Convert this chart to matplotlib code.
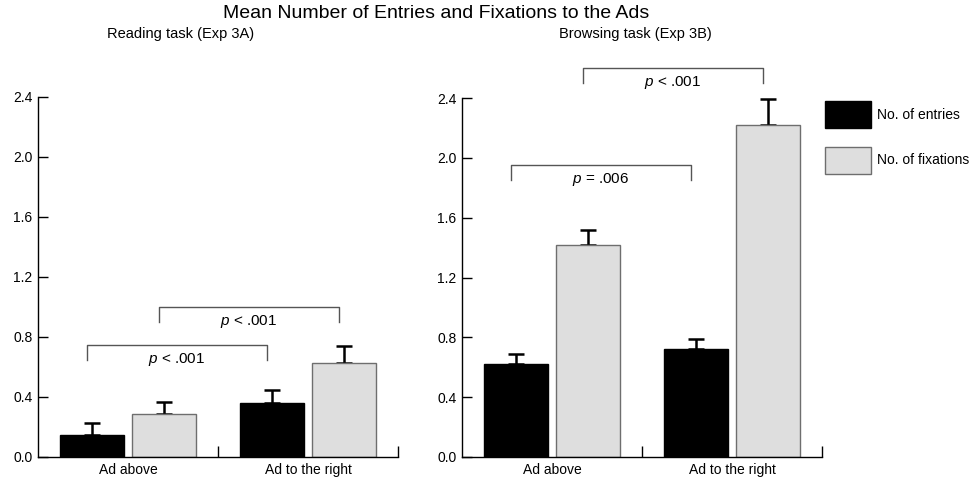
import numpy as np
import matplotlib
matplotlib.use("Agg")
import matplotlib.pyplot as plt
from matplotlib.patches import Patch

plt.rcParams['font.family'] = ['Liberation Sans', 'DejaVu Sans']
plt.rcParams['mathtext.fontset'] = 'custom'
plt.rcParams['mathtext.it'] = 'Liberation Sans:italic'
plt.rcParams['mathtext.rm'] = 'Liberation Sans'

categories = ["Ad above", "Ad to the right"]
series_names = ["No. of entries", "No. of fixations"]

reading_entries = [0.15, 0.36]
reading_entries_err = [0.08, 0.09]
reading_fixations = [0.29, 0.63]
reading_fixations_err = [0.08, 0.11]

browsing_entries = [0.62, 0.72]
browsing_entries_err = [0.07, 0.07]
browsing_fixations = [1.42, 2.22]
browsing_fixations_err = [0.10, 0.17]

yticks = [0.0, 0.4, 0.8, 1.2, 1.6, 2.0, 2.4]

# brackets: (series a, cat a, series b, cat b, label)
reading_brackets = [(0, 0, 0, 1, "$p$ < .001"), (1, 0, 1, 1, "$p$ < .001")]
browsing_brackets = [(0, 0, 0, 1, "$p$ = .006"), (1, 0, 1, 1, "$p$ < .001")]

black = "#000000"
grey = "#dedede"
grey_edge = "#6e6e6e"
bracket_col = "#555555"

W, H = 975, 482
fig = plt.figure(figsize=(W / 100, H / 100), dpi=100)

def px_axes(x0, x1, ytop, ybot):
    return fig.add_axes([x0 / W, 1 - ybot / H, (x1 - x0) / W, (ybot - ytop) / H])

ax1 = px_axes(38, 398, 97, 457)
ax2 = px_axes(462, 822, 98, 457)

width = 0.36
offs = [-0.2, 0.2]


def draw_panel(ax, entries, entries_err, fix, fix_err, brackets, levels):
    x = np.arange(len(categories))
    vals = [entries, fix]
    errs = [entries_err, fix_err]
    faces = [black, grey]
    edges = [black, grey_edge]
    for i in range(2):
        ax.bar(x + offs[i], vals[i], width, color=faces[i], edgecolor=edges[i],
               linewidth=1, zorder=2)
        ax.errorbar(x + offs[i], vals[i], yerr=[np.zeros(len(x)), errs[i]],
                    fmt='none', ecolor=black, elinewidth=1.8, capsize=6,
                    capthick=1.8, zorder=1)
    ax.set_xlim(-0.5, 1.5)
    ax.set_ylim(0, 2.4)
    ax.set_yticks(yticks)
    ax.set_yticklabels([f"{t:.1f}" for t in yticks], fontsize=10)
    ax.set_xticks([0.5, 1.5])
    ax.set_xticklabels([])
    for i, c in enumerate(categories):
        ax.text(x[i], -0.04, c, ha='center', va='top', fontsize=10)
    ax.tick_params(axis='y', direction='in', length=7, width=1, pad=4)
    ax.tick_params(axis='x', direction='in', length=8, width=1)
    ax.spines['top'].set_visible(False)
    ax.spines['right'].set_visible(False)
    for s in ['left', 'bottom']:
        ax.spines[s].set_linewidth(1)
    for (sa, ca, sb, cb, lab), (top, drop) in zip(brackets, levels):
        xa = x[ca] + offs[sa] - 0.03
        xb = x[cb] + offs[sb] - 0.03
        ax.plot([xa, xa, xb, xb], [top - drop, top, top, top - drop],
                color=bracket_col, lw=1, clip_on=False)
        ax.text((xa + xb) / 2, top - 0.04, lab, ha='center', va='top',
                fontsize=11, clip_on=False)


draw_panel(ax1, reading_entries, reading_entries_err, reading_fixations,
           reading_fixations_err, reading_brackets, [(0.75, 0.1), (1.0, 0.1)])
draw_panel(ax2, browsing_entries, browsing_entries_err, browsing_fixations,
           browsing_fixations_err, browsing_brackets, [(1.95, 0.1), (2.6, 0.1)])

fig.text(436 / W, 1 - 13 / H, "Mean Number of Entries and Fixations to the Ads",
         ha='center', va='center', fontsize=14)
fig.text(181 / W, 1 - 34 / H, "Reading task (Exp 3A)", ha='center', va='center', fontsize=10.5)
fig.text(635 / W, 1 - 34 / H, "Browsing task (Exp 3B)", ha='center', va='center', fontsize=10.5)

handles = [Patch(facecolor=black, edgecolor=black),
           Patch(facecolor=grey, edgecolor=grey_edge)]
fig.legend(handles, series_names, loc='upper left',
           bbox_to_anchor=(825 / W, 1 - 101 / H), frameon=False, fontsize=10,
           handlelength=3.3, handleheight=2.6, labelspacing=1.35,
           handletextpad=0.45, borderpad=0, borderaxespad=0)

fig.savefig("out.png", dpi=100)
